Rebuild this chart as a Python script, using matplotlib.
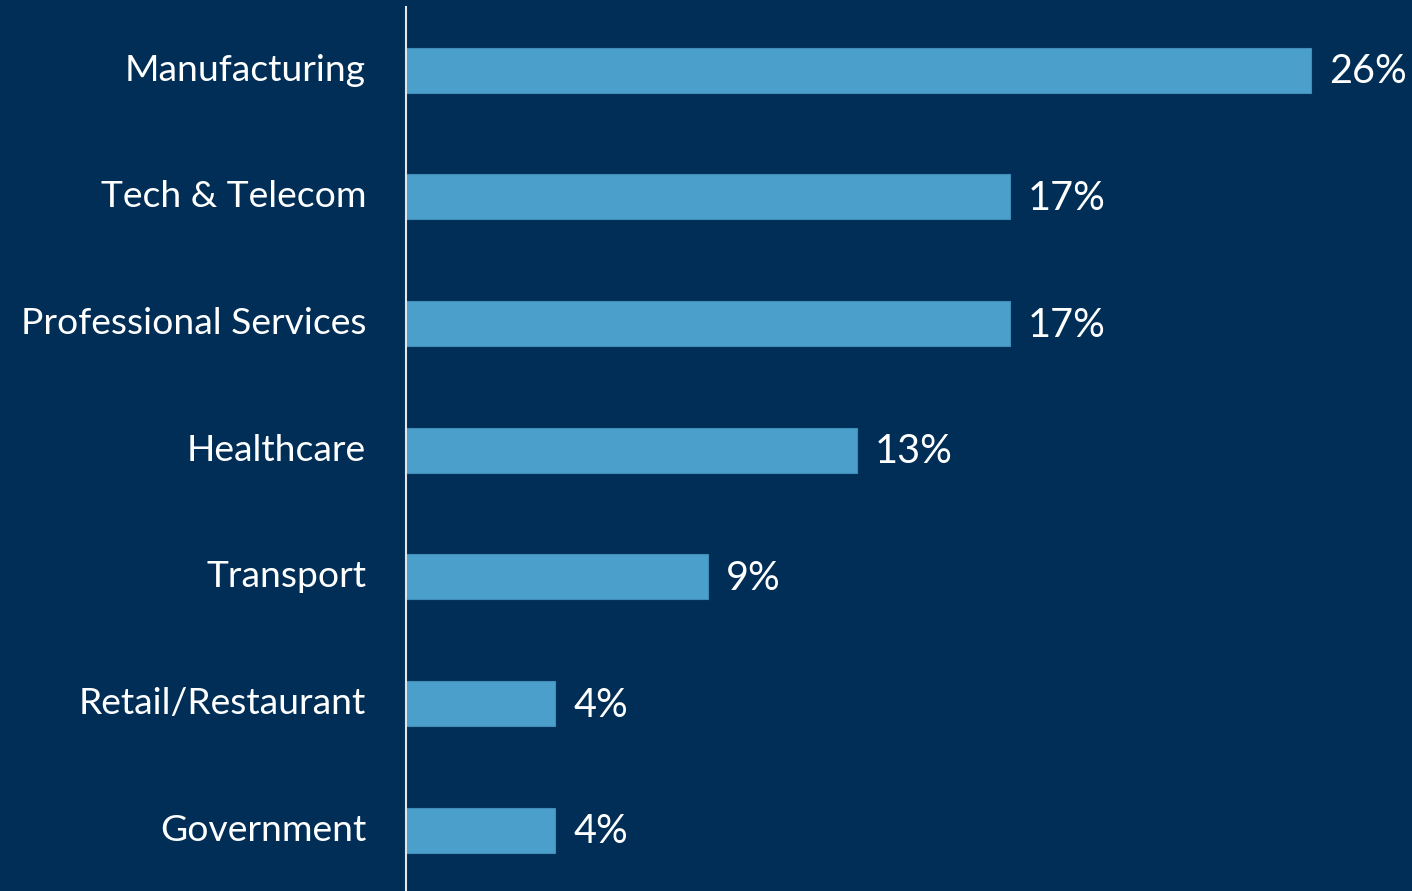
import matplotlib
matplotlib.use("Agg")
import matplotlib.pyplot as plt

categories = ["Manufacturing", "Tech & Telecom", "Professional Services",
              "Healthcare", "Transport", "Retail/Restaurant", "Government"]
shares = [26.1, 17.4, 17.4, 13.0, 8.7, 4.3, 4.3]

BG = "#002E56"
BAR = "#4BA0CB"
PX = 0.72  # points per pixel at 100 dpi

plt.rcParams["font.family"] = ["Lato", "DejaVu Sans"]

fig = plt.figure(figsize=(14.12, 8.91), dpi=100, facecolor=BG)
ax = fig.add_axes([406 / 1412, 0, 1 - 406 / 1412, 1 - 7 / 891], facecolor=BG)

pos = list(range(len(categories)))
ax.barh(pos, shares, height=0.355, color=BAR, edgecolor="#3F8DB8", linewidth=0.8)

for y, v in zip(pos, shares):
    ax.annotate(f"{v:.0f}%", xy=(v, y), xytext=(18 * PX, -13 * PX), textcoords="offset points",
                va="baseline", ha="left", color="white", fontsize=28.5)

# category names to the left of the axis line
for y, name in zip(pos, categories):
    ax.annotate(name, xy=(0, y), xytext=(-40 * PX, -10.5 * PX), textcoords="offset points",
                va="baseline", ha="right", color="white", fontsize=26.8,
                annotation_clip=False)

ax.set_xlim(0, 29.0)
ax.set_ylim(6.48, -0.5)
ax.set_yticks([])
ax.set_xticks([])

for s in ["top", "right", "bottom"]:
    ax.spines[s].set_visible(False)
ax.spines["left"].set_color("#E6E6E6")
ax.spines["left"].set_linewidth(1.5)

fig.savefig("out.png", dpi=100, facecolor=BG)
